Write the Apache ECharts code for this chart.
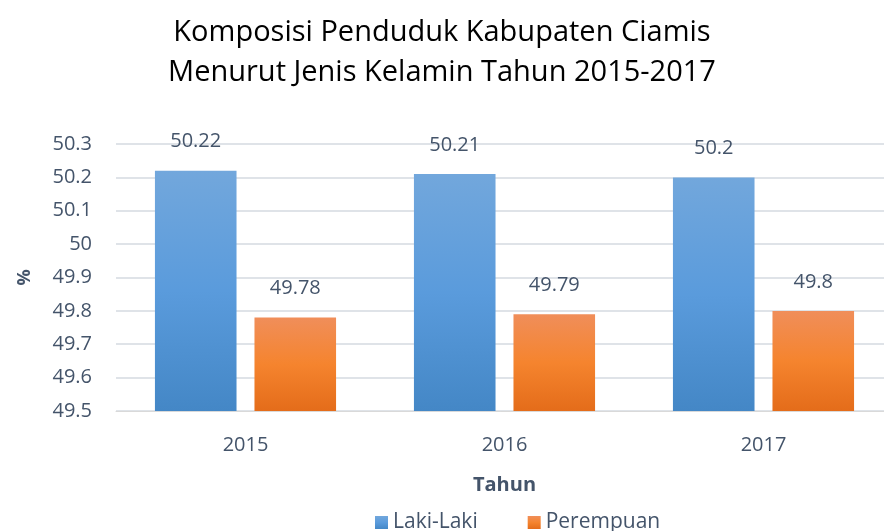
<!DOCTYPE html>
<html>
<head>
<meta charset="utf-8">
<script src="https://cdn.jsdelivr.net/npm/echarts@6/dist/echarts.min.js"></script>
<style>
html, body { margin: 0; padding: 0; background: #fff; }
#chart { width: 884px; height: 531px; }
</style>
</head>
<body>
<div id="chart"></div>
<script>
var years = ['2015', '2016', '2017'];
var lakiLaki = [50.22, 50.21, 50.2];
var perempuan = [49.78, 49.79, 49.8];

var textColor = '#44546a';
var font = '"Open Sans", "Noto Sans", sans-serif';

function grad(top, mid, bottom) {
    return new echarts.graphic.LinearGradient(0, 0, 0, 1, [
        { offset: 0, color: top },
        { offset: 0.5, color: mid },
        { offset: 1, color: bottom }
    ]);
}

var myChart = echarts.init(document.getElementById('chart'));

var option = {
    backgroundColor: '#fff',
    animation: false,
    title: {
        text: 'Komposisi Penduduk Kabupaten Ciamis\nMenurut Jenis Kelamin Tahun 2015-2017',
        left: 'center',
        top: 8,
        textStyle: {
            fontFamily: font,
            fontSize: 29,
            fontWeight: 'normal',
            color: '#000',
            lineHeight: 40
        }
    },
    legend: {
        bottom: -7,
        left: 370,
        itemWidth: 13,
        itemHeight: 13,
        itemGap: 50,
        icon: 'rect',
        textStyle: { fontFamily: font, fontSize: 21, color: textColor },
        data: ['Laki-Laki', 'Perempuan']
    },
    grid: {
        left: 116,
        width: 777,
        top: 144,
        bottom: 120,
        outerBoundsMode: 'none',
        containLabel: false
    },
    xAxis: {
        type: 'category',
        data: years,
        name: 'Tahun',
        nameLocation: 'middle',
        nameGap: 64,
        nameTextStyle: { fontFamily: font, fontSize: 20, fontWeight: 'bold', color: textColor },
        axisLine: { show: true, lineStyle: { color: '#d9d9d9', width: 1 } },
        axisTick: { show: false },
        axisLabel: { fontFamily: font, fontSize: 20, color: textColor, margin: 24 }
    },
    yAxis: {
        type: 'value',
        min: 49.5,
        max: 50.3,
        interval: 0.1,
        name: '%',
        nameLocation: 'middle',
        nameGap: 82,
        nameRotate: 90,
        nameTextStyle: { fontFamily: font, fontSize: 18, fontWeight: 'bold', color: textColor },
        axisLine: { show: false },
        axisTick: { show: false },
        axisLabel: {
            fontFamily: font,
            fontSize: 20,
            color: textColor,
            margin: 24,
            formatter: function(v) { return String(Math.round(v * 10) / 10); }
        },
        splitLine: { show: true, lineStyle: { color: '#dfe3e8', width: 2 } }
    },
    series: [{
        name: 'Laki-Laki',
        type: 'bar',
        data: lakiLaki,
        barWidth: '31.5%',
        barGap: '22%',
        itemStyle: { color: grad('#72a7dc', '#5a9bdc', '#4487c6') },
        label: {
            show: true,
            position: 'top',
            distance: 19,
            fontFamily: font,
            fontSize: 20,
            color: textColor
        }
    }, {
        name: 'Perempuan',
        type: 'bar',
        data: perempuan,
        barWidth: '31.5%',
        itemStyle: { color: grad('#f08e5a', '#f5842e', '#e46c1a') },
        label: {
            show: true,
            position: 'top',
            distance: 19,
            fontFamily: font,
            fontSize: 20,
            color: textColor
        }
    }]
};

myChart.setOption(option);
</script>
</body>
</html>
